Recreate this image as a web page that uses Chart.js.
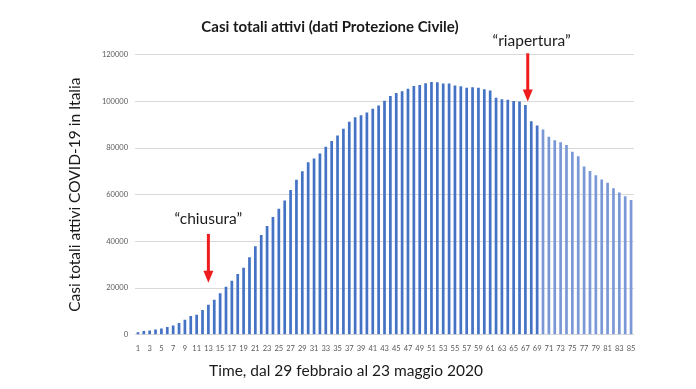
<!DOCTYPE html>
<html><head><meta charset="utf-8">
<script src="https://cdn.jsdelivr.net/npm/chart.js@4.4.1/dist/chart.umd.min.js"></script>
<style>html,body{margin:0;padding:0;background:#fff}#wrap{width:696px;height:389px;position:relative}</style>
</head><body><div id="wrap"><canvas id="c"></canvas></div>
<script>
// Day number since 29 February 2020
const categories = ['1','2','3','4','5','6','7','8','9','10','11','12','13','14','15','16','17','18','19','20',
 '21','22','23','24','25','26','27','28','29','30','31','32','33','34','35','36','37','38','39','40',
 '41','42','43','44','45','46','47','48','49','50','51','52','53','54','55','56','57','58','59','60',
 '61','62','63','64','65','66','67','68','69','70','71','72','73','74','75','76','77','78','79','80',
 '81','82','83','84','85'];
// Casi totali attivi
const activeCases = [1049,1577,1835,2263,2706,3296,3916,5061,6387,7985,
 8514,10590,12839,14955,17750,20603,23073,26062,28710,33190,
 37860,42681,46638,50418,54030,57521,62013,66414,70065,73880,
 75528,77635,80572,83049,85388,88274,91246,93187,94067,95262,
 96877,98273,100269,102253,103616,104291,105418,106607,106962,107771,
 108257,108237,107709,107699,106848,106527,105847,106103,105813,105205,
 104657,101551,100943,100704,100179,99980,98467,91528,89624,87961,
 84842,83324,82488,81266,78457,76440,72070,70187,68351,66553,
 65129,62752,60960,59322,57752];
const yTicks = [0,20000,40000,60000,80000,100000,120000];
const titleText = 'Casi totali attivi (dati Protezione Civile)';
const yTitle = 'Casi totali attivi COVID-19 in Italia';
const xTitle = 'Time, dal 29 febbraio al 23 maggio 2020';
const annotationLabels = ['\u201Cchiusura\u201D', '\u201Criapertura\u201D'];
const annotationDays = ['13', '67'];

const annotationGeom = [
  {textOffset: 0, arrowOffset: 0, textValue: 49600, fromValue: 43200, toValue: 22300},
  {textOffset: 1.05, arrowOffset: 0.4, textValue: 125900, fromValue: 120600, toValue: 99900}
];

const FAMILY = 'Lato, "Open Sans", sans-serif';
Chart.defaults.font.family = FAMILY;

const annotationPlugin = {
  id: 'annot',
  afterDraw(chart) {
    const ctx = chart.ctx, xs = chart.scales.x, ys = chart.scales.y;
    const textFont = Chart.helpers.fontString(15.5, 'normal', FAMILY);
    ctx.save();
    annotationLabels.forEach((label, i) => {
      const g = annotationGeom[i];
      const idx = categories.indexOf(annotationDays[i]);
      const ax = xs.getPixelForValue(idx + g.arrowOffset);
      const tx = xs.getPixelForValue(idx + g.textOffset);
      const y0 = ys.getPixelForValue(g.fromValue);
      const y1 = ys.getPixelForValue(g.toValue);
      ctx.font = textFont;
      ctx.fillStyle = '#1a1a1a';
      ctx.textAlign = 'center';
      ctx.textBaseline = 'middle';
      ctx.fillText(label, tx, ys.getPixelForValue(g.textValue));
      ctx.strokeStyle = '#ee1c1c';
      ctx.fillStyle = '#ee1c1c';
      ctx.lineWidth = 3;
      ctx.beginPath();
      ctx.moveTo(ax, y0);
      ctx.lineTo(ax, y1 - 10);
      ctx.stroke();
      ctx.beginPath();
      ctx.moveTo(ax - 5, y1 - 12);
      ctx.lineTo(ax + 5, y1 - 12);
      ctx.lineTo(ax, y1);
      ctx.closePath();
      ctx.fill();
    });
    ctx.font = textFont;
    ctx.fillStyle = '#1a1a1a';
    ctx.textAlign = 'center';
    ctx.textBaseline = 'middle';
    ctx.fillText(xTitle, chart.width / 2 - 2, 371);
    ctx.restore();
  }
};

new Chart(document.getElementById('c'), {
  type: 'bar',
  data: {
    labels: categories,
    datasets: [{
      data: activeCases,
      backgroundColor: c => c.dataIndex >= 69 ? '#7b98d6' : '#4472c4',
      barPercentage: 0.46,
      categoryPercentage: 1.0
    }]
  },
  options: {
    responsive: true,
    maintainAspectRatio: false,
    animation: false,
    devicePixelRatio: 1,
    layout: {padding: {left: 26, right: 62, top: 0, bottom: 0}},
    plugins: {
      legend: {display: false},
      tooltip: {enabled: false},
      title: {
        display: true,
        text: titleText,
        color: '#1a1a1a',
        font: {size: 15, weight: 'bold'},
        padding: {top: 18, bottom: 18.7}
      }
    },
    scales: {
      x: {
        grid: {display: false},
        border: {display: false},
        ticks: {
          autoSkip: false,
          maxRotation: 0,
          padding: 1,
          color: '#595959',
          font: {size: 7.5},
          callback: (v, i) => i % 2 === 0 ? categories[i] : ''
        },
        afterFit: s => { s.height = 54.3; }
      },
      y: {
        min: 0, max: 120000,
        afterBuildTicks: s => { s.ticks = yTicks.map(v => ({value: v})); },
        grid: {color: '#d9d9d9', lineWidth: 1, drawTicks: false},
        border: {display: false},
        ticks: {padding: 7, color: '#595959', font: {size: 7.5}, callback: v => String(v)},
        title: {display: true, text: yTitle, color: '#1a1a1a', font: {size: 15.5}, padding: {top: 40, bottom: 0}},
        afterFit: s => { s.width = 109; }
      }
    }
  },
  plugins: [annotationPlugin]
});
</script>
</body></html>
